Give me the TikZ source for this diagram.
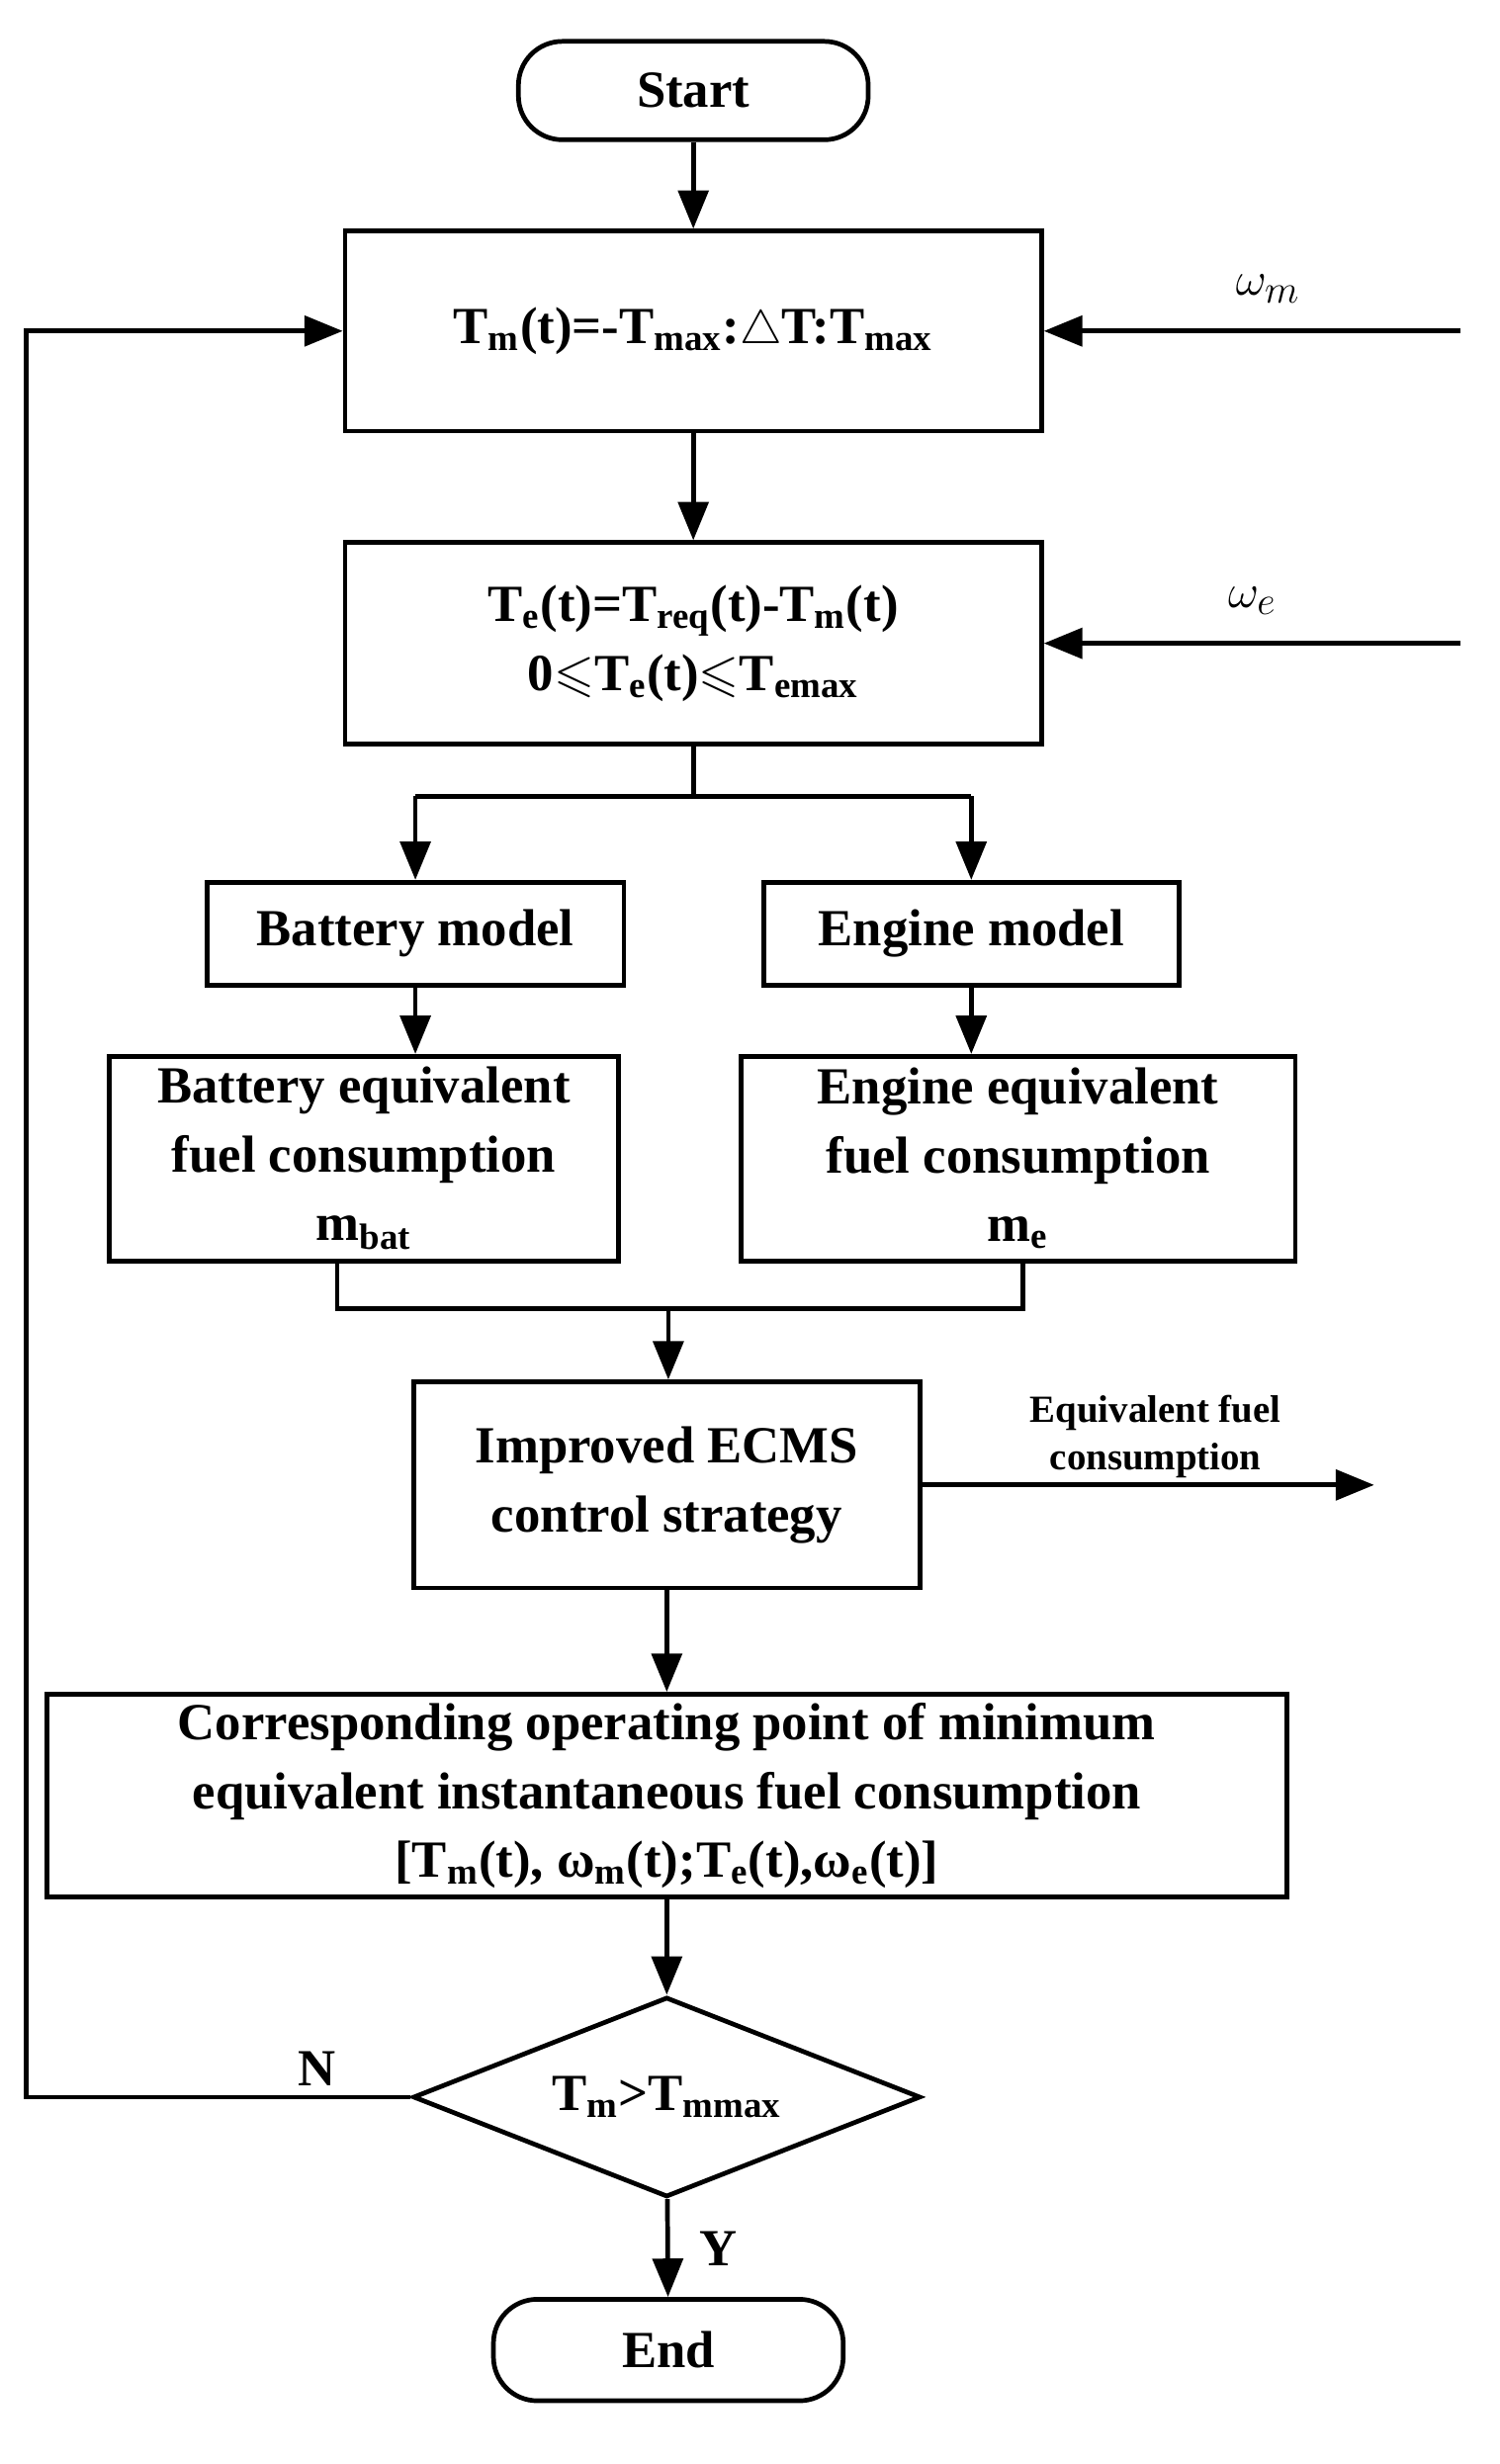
\documentclass[tikz,border=0pt]{standalone}
\usepackage{amssymb}
\usepackage{fontspec}
\setmainfont{Liberation Serif}
\usetikzlibrary{shapes.geometric,arrows.meta}
\newcommand{\sbs}[1]{\textsubscript{#1}}
\begin{document}
\begin{tikzpicture}[x=0.02cm,y=-0.02cm,
  every node/.style={font=\fontsize{19}{25}\selectfont\bfseries},
  box/.style={draw,line width=1.7pt,align=center,inner sep=0pt},
  ln/.style={line width=1.7pt},
  ar/.style={line width=1.7pt,-{Triangle[length=14pt,width=11pt]}}]
\useasboundingbox (0,0) rectangle (960,1578);
\node[box,rounded corners=16pt,minimum width=224*0.02cm,minimum height=63*0.02cm] (start) at (444,58) {Start};
\node[box,minimum width=446*0.02cm,minimum height=128*0.02cm] (b1) at (444,212) {T\sbs{m}(t)=-T\sbs{max}:$\triangle$T:T\sbs{max}};
\node[box,minimum width=446*0.02cm,minimum height=129*0.02cm] (b2) at (444,412) {T\sbs{e}(t)=T\sbs{req}(t)-T\sbs{m}(t)\\0$\leqslant$T\sbs{e}(t)$\leqslant$T\sbs{emax}};
\node[box,minimum width=267*0.02cm,minimum height=66*0.02cm] (bm) at (266,598) {Battery model};
\node[box,minimum width=266*0.02cm,minimum height=66*0.02cm] (em) at (622,598) {Engine model};
\node[box,minimum width=326*0.02cm,minimum height=131*0.02cm] (bf) at (233,742) {Battery equivalent\\fuel consumption\\m\sbs{bat}};
\node[box,minimum width=355*0.02cm,minimum height=131*0.02cm] (ef) at (652,742) {Engine equivalent\\fuel consumption\\m\sbs{e}};
\node[box,minimum width=324*0.02cm,minimum height=132*0.02cm] (ecms) at (427,951) {Improved ECMS\\control strategy};
\node[box,minimum width=794*0.02cm,minimum height=130*0.02cm] (op) at (427,1150) {Corresponding operating point of minimum\\equivalent instantaneous fuel consumption\\{[}T\sbs{m}(t), ω\sbs{m}(t);T\sbs{e}(t),ω\sbs{e}(t)]};
\node[box,diamond,aspect=2.55,minimum width=325*0.02cm,minimum height=128*0.02cm] (dec) at (427,1343) {T\sbs{m}>T\sbs{mmax}};
\node[box,rounded corners=16pt,minimum width=224*0.02cm,minimum height=65*0.02cm] (end) at (428,1505) {End};
\coordinate (wm) at (935,212);
\coordinate (we) at (935,412);
\coordinate (out) at (880,951);
\coordinate (split) at (444,510);
\coordinate (merge) at (428,838);
\draw[ar] (start) -- (b1);
\draw[ar] (b1) -- (b2);
\draw[ar] (wm) -- (b1.east);
\draw[ar] (we) -- (b2.east);
\node[font=\fontsize{19}{22}\selectfont] at (812,185) {$\omega_m$};
\node[font=\fontsize{19}{22}\selectfont] at (802,385) {$\omega_e$};
\draw[ln] (b2.south) -- (split);
\draw[ar] (266,510) -- (bm.north);
\draw[ar] (622,510) -- (em.north);
\draw[ln] (266,510) -- (622,510);
\draw[ar] (bm) -- (bm.south |- bf.north);
\draw[ar] (em) -- (em.south |- ef.north);
\draw[ln] (216,808) -- (216,838) -- (655,838) -- (655,808);
\draw[ar] (merge) -- (merge |- ecms.north);
\draw[ar] (ecms.east) -- (out);
\node[font=\fontsize{14}{17}\selectfont\bfseries,align=center] at (740,920) {Equivalent fuel\\consumption};
\draw[ar] (ecms) -- (ecms.south |- op.north);
\draw[ar] (op) -- (dec);
\draw[ar] (dec) -- (end);
\draw[ar] (dec.west) -- (17,1343) -- (17,212) -- (b1.west);
\node at (203,1325) {N};
\node at (460,1440) {Y};
\end{tikzpicture}
\end{document}
